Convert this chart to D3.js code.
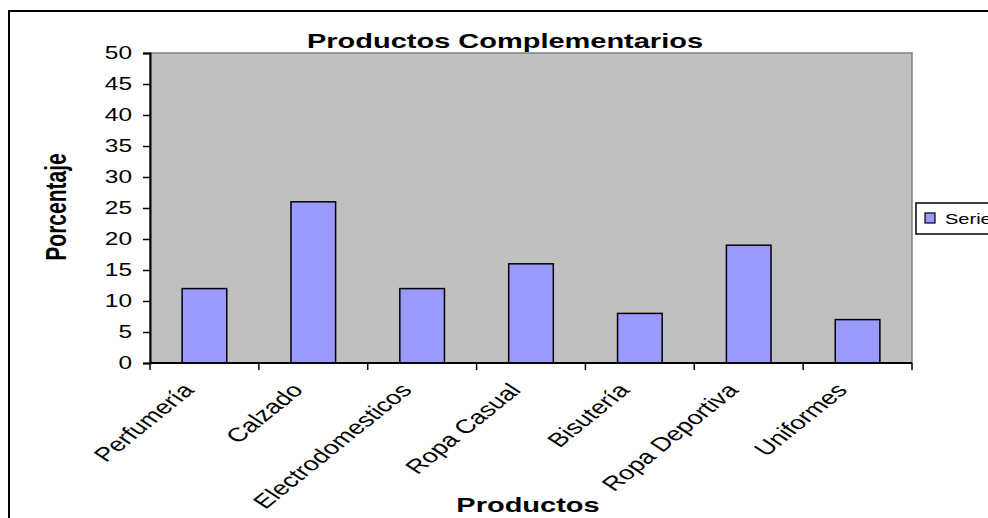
<!DOCTYPE html>
<html>
<head>
<meta charset="utf-8">
<script src="https://cdn.jsdelivr.net/npm/d3@7"></script>
<style>
  body { margin: 0; background: #fff; }
  text { font-family: "Liberation Sans", Arial, sans-serif; fill: #000; }
</style>
</head>
<body>
<svg id="chart" width="988" height="518"></svg>
<script>
// data
var categories = ['Perfumería', 'Calzado', 'Electrodomesticos', 'Ropa Casual',
                  'Bisutería', 'Ropa Deportiva', 'Uniformes'];
var values = [12, 26, 12, 16, 8, 19, 7];
var yTicks = [0, 5, 10, 15, 20, 25, 30, 35, 40, 45, 50];
var seriesName = 'Serie1';

var svg = d3.select('#chart'),
    SX = 1.38,  // the original picture is stretched sideways
    plot = {left: 150, right: 912, top: 53, bottom: 363};

var x = d3.scaleBand().domain(categories).range([plot.left, plot.right]),
    y = d3.scaleLinear().domain([0, 50]).range([plot.bottom, plot.top]);

// outer chart border (runs off the right and bottom of the picture)
svg.append('rect')
  .attr('x', 9).attr('y', 11).attr('width', 1100).attr('height', 600)
  .attr('fill', '#fff').attr('stroke', '#000').attr('stroke-width', 2);

// plot area
svg.append('rect')
  .attr('x', plot.left).attr('y', plot.top)
  .attr('width', plot.right - plot.left).attr('height', plot.bottom - plot.top)
  .attr('fill', '#c0c0c0').attr('stroke', '#808080').attr('stroke-width', 1.5);

// bars
var barW = x.bandwidth() * 0.41;
svg.append('g').selectAll('rect')
  .data(values)
  .join('rect')
    .attr('x', (d, i) => x(categories[i]) + (x.bandwidth() - barW) / 2)
    .attr('y', d => y(d))
    .attr('width', barW)
    .attr('height', d => y(0) - y(d))
    .attr('fill', '#9999ff')
    .attr('stroke', '#000')
    .attr('stroke-width', 1.5);

// y axis
var yAxis = svg.append('g')
  .attr('transform', `translate(${plot.left},0)`)
  .call(d3.axisLeft(y).tickValues(yTicks).tickSize(7).tickFormat(''));
yAxis.select('.domain').attr('stroke-width', 2);
yAxis.selectAll('.tick line').attr('stroke-width', 1.5);

svg.append('g').selectAll('text')
  .data(yTicks)
  .join('text')
    .attr('transform', d => `translate(132,${y(d)}) scale(${SX},1)`)
    .attr('dy', '0.36em')
    .attr('text-anchor', 'end')
    .attr('font-size', 17.7)
    .text(d => d);

// x axis: ticks sit between the categories
var xAxis = svg.append('g')
  .attr('transform', `translate(0,${plot.bottom})`);
xAxis.append('line')
  .attr('x1', plot.left).attr('x2', plot.right)
  .attr('stroke', '#000').attr('stroke-width', 2);
xAxis.selectAll('line.tick')
  .data(d3.range(categories.length + 1))
  .join('line')
    .classed('tick', true)
    .attr('x1', i => plot.left + i * x.step())
    .attr('x2', i => plot.left + i * x.step())
    .attr('y1', 0).attr('y2', 7)
    .attr('stroke', '#000').attr('stroke-width', 1.5);

svg.append('g').selectAll('text')
  .data(categories)
  .join('text')
    .attr('transform', d => `translate(${x(d) + x.bandwidth() / 2 - 9},391) scale(${SX},1) rotate(-48)`)
    .attr('text-anchor', 'end')
    .attr('font-size', 19.6)
    .text(d => d);

// titles
svg.append('text')
  .attr('transform', `translate(505,48) scale(${SX},1)`)
  .attr('text-anchor', 'middle')
  .attr('font-size', 21)
  .attr('font-weight', 'bold')
  .text('Productos Complementarios');

svg.append('text')
  .attr('transform', `translate(66,207) scale(${SX},1) rotate(-90)`)
  .attr('text-anchor', 'middle')
  .attr('font-size', 21)
  .attr('font-weight', 'bold')
  .text('Porcentaje');

svg.append('text')
  .attr('transform', `translate(528,512) scale(${SX},1)`)
  .attr('text-anchor', 'middle')
  .attr('font-size', 21)
  .attr('font-weight', 'bold')
  .text('Productos');

// legend
var legend = svg.append('g').attr('transform', 'translate(916,203)');
legend.append('rect')
  .attr('width', 120).attr('height', 31)
  .attr('fill', '#fff').attr('stroke', '#000').attr('stroke-width', 1.5);
legend.append('rect')
  .attr('x', 9).attr('y', 10).attr('width', 10).attr('height', 10)
  .attr('fill', '#9999ff').attr('stroke', '#000').attr('stroke-width', 1.2);
legend.append('text')
  .attr('transform', `translate(29,21) scale(${SX},1)`)
  .attr('font-size', 14.5)
  .text(seriesName);
</script>
</body>
</html>
